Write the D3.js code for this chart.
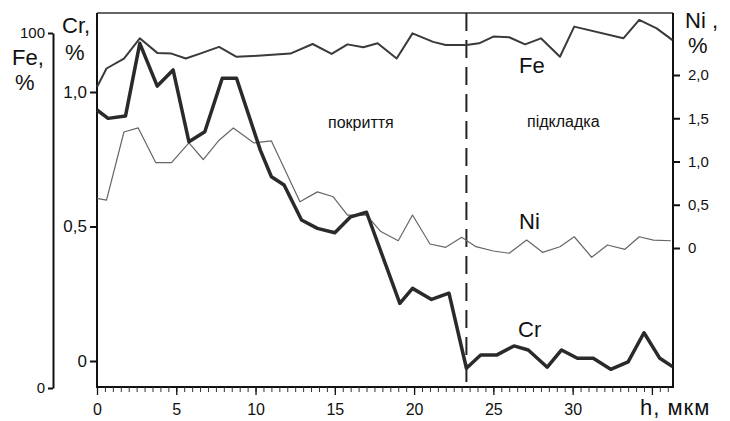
<!DOCTYPE html>
<html>
<head>
<meta charset="utf-8">
<script src="https://cdn.jsdelivr.net/npm/d3@7"></script>
<style>
  body { margin: 0; background: #fff; }
  svg text { font-family: "Liberation Sans", Arial, sans-serif; fill: #111; }
</style>
</head>
<body>
<div id="chart"></div>
<script>
// depth, мкм and concentrations
const feH = [0, 0.6, 1.7, 2.7, 3.8, 4.7, 5.6, 6.5, 7.7, 8.8, 9.8, 12.2, 13.6, 14.8, 15.8, 16.8, 17.7, 18.9, 19.9, 21.2, 22.0, 23.3, 24.1, 25.0, 26.0, 27.0, 28.0, 29.2, 30.1, 33.2, 34.2, 35.3, 36.3];
const feVal = [84.8, 90, 92.8, 98.5, 94.4, 94.2, 92.8, 94.2, 96.1, 93.3, 93.5, 94.2, 96.9, 94.1, 96.8, 96, 97.1, 92.8, 99.9, 97.5, 96.6, 96.6, 97.1, 99, 98.8, 96.8, 98.5, 93.3, 101.8, 98.5, 103.7, 101.3, 98];

const crH = [0, 0.7, 1.8, 2.7, 3.8, 4.8, 5.8, 6.8, 7.9, 8.8, 10.3, 11.0, 11.8, 12.9, 13.9, 15.0, 16.0, 17.0, 19.1, 19.9, 21.1, 22.2, 23.3, 24.2, 25.2, 26.3, 27.2, 28.4, 29.3, 30.3, 31.3, 32.4, 33.5, 34.5, 35.5, 36.3];
const crVal = [0.933, 0.902, 0.911, 1.181, 1.022, 1.082, 0.815, 0.852, 1.051, 1.051, 0.784, 0.685, 0.654, 0.524, 0.493, 0.477, 0.536, 0.553, 0.214, 0.270, 0.229, 0.252, -0.027, 0.022, 0.022, 0.056, 0.041, -0.023, 0.041, 0.010, 0.010, -0.031, -0.003, 0.105, 0.010, -0.021];

const niH = [0, 0.6, 1.7, 2.6, 3.7, 4.7, 5.8, 6.7, 7.7, 8.6, 9.9, 11.0, 12.8, 13.9, 14.9, 15.8, 17.0, 17.9, 19.0, 19.9, 21.0, 22.0, 23.0, 23.9, 25.0, 26.0, 27.1, 28.1, 29.2, 30.1, 31.2, 32.2, 33.3, 34.2, 35.1, 36.2];
const niVal = [0.573, 0.554, 1.341, 1.388, 0.988, 0.988, 1.215, 1.023, 1.246, 1.388, 1.215, 1.238, 0.534, 0.649, 0.592, 0.381, 0.381, 0.19, 0.084, 0.381, 0.046, 0.008, 0.123, 0.015, -0.035, -0.061, 0.092, -0.05, 0.015, 0.13, -0.107, 0.035, -0.015, 0.13, 0.092, 0.084];

const xMajor = [0, 5, 10, 15, 20, 25, 30, 35];
const crTicks = [0, 0.5, 1];
const feTicks = [0, 100];
const niTicks = [0, 0.5, 1, 1.5, 2];
const boundary = 23.3;

const W = 730, H = 421;
const plot = { left: 97, right: 673, top: 13, bottom: 387 };

const svg = d3.select("#chart").append("svg")
    .attr("width", W)
    .attr("height", H);

// scales
const x = d3.scaleLinear().domain([0, 36.33]).range([plot.left, plot.right]);
const yCr = d3.scaleLinear().domain([0, 1]).range([361, 92]);
const yFe = d3.scaleLinear().domain([0, 100]).range([388, 33]);
const yNi = d3.scaleLinear().domain([0, 2]).range([248, 75]);

const comma = d => d === 0 ? "0" : d3.format(".1f")(d).replace(".", ",");

// frame: thin top, heavier sides and bottom
svg.append("line")
    .attr("x1", plot.left).attr("x2", plot.right)
    .attr("y1", plot.top).attr("y2", plot.top)
    .attr("stroke", "#333").attr("stroke-width", 1.5);
svg.append("path")
    .attr("d", `M${plot.left},${plot.top}V${plot.bottom}H${plot.right}V${plot.top}`)
    .attr("fill", "none")
    .attr("stroke", "#111")
    .attr("stroke-width", 2);

// x axis: minor + major ticks
svg.append("g")
    .attr("transform", `translate(0, ${plot.bottom})`)
    .call(d3.axisBottom(x).tickValues(d3.range(0, 36.5, 0.5)).tickSize(5).tickFormat(""))
    .call(g => g.select(".domain").remove())
    .call(g => g.selectAll("line").attr("stroke", "#333"));

svg.append("g")
    .attr("transform", `translate(0, ${plot.bottom})`)
    .call(d3.axisBottom(x).tickValues(xMajor).tickSize(8).tickPadding(9)
        .tickFormat(d => d === 35 ? "" : d))
    .call(g => g.select(".domain").remove())
    .call(g => g.selectAll("line").attr("stroke", "#111").attr("stroke-width", 1.3))
    .call(g => g.selectAll("text").style("font-size", "16px"));

// Cr axis (left, on the frame)
svg.append("g")
    .attr("transform", `translate(${plot.left}, 0)`)
    .call(d3.axisLeft(yCr).tickValues(crTicks).tickSize(7).tickPadding(3).tickFormat(comma))
    .call(g => g.select(".domain").remove())
    .call(g => g.selectAll("line").attr("stroke", "#111").attr("stroke-width", 2))
    .call(g => g.selectAll("text").style("font-size", "17px"));

// Fe axis (outer left)
svg.append("g")
    .attr("transform", "translate(53, 0)")
    .call(d3.axisLeft(yFe).tickValues(feTicks).tickSize(5).tickSizeOuter(0).tickPadding(3))
    .call(g => g.select(".domain").attr("stroke", "#111").attr("stroke-width", 2))
    .call(g => g.selectAll("line").attr("stroke", "#111").attr("stroke-width", 2))
    .call(g => g.selectAll("text").style("font-size", "15px"));

// Ni axis (right, on the frame)
svg.append("g")
    .attr("transform", `translate(${plot.right}, 0)`)
    .call(d3.axisRight(yNi).tickValues(niTicks).tickSize(7).tickPadding(8).tickFormat(comma))
    .call(g => g.select(".domain").remove())
    .call(g => g.selectAll("line").attr("stroke", "#111").attr("stroke-width", 2))
    .call(g => g.selectAll("text").style("font-size", "15px"));

// coating / substrate boundary
svg.append("line")
    .attr("x1", x(boundary)).attr("x2", x(boundary))
    .attr("y1", plot.top).attr("y2", plot.bottom)
    .attr("stroke", "#222")
    .attr("stroke-width", 2)
    .attr("stroke-dasharray", "18,9");

// lines
const mkLine = (hs, vs, y) => d3.line()
    .x((d, i) => x(hs[i]))
    .y((d, i) => y(vs[i]))(hs);

svg.append("path")
    .attr("d", mkLine(niH, niVal, yNi))
    .attr("fill", "none").attr("stroke", "#666").attr("stroke-width", 1.2)
    .attr("stroke-linejoin", "round");

svg.append("path")
    .attr("d", mkLine(feH, feVal, yFe))
    .attr("fill", "none").attr("stroke", "#3a3a3a").attr("stroke-width", 2)
    .attr("stroke-linejoin", "round");

svg.append("path")
    .attr("d", mkLine(crH, crVal, yCr))
    .attr("fill", "none").attr("stroke", "#2a2a2a").attr("stroke-width", 3.5)
    .attr("stroke-linejoin", "round");

// axis titles and labels
const label = (t, px, py, size) => svg.append("text")
    .attr("x", px).attr("y", py)
    .style("font-size", size + "px")
    .text(t);

label("Cr,", 62, 33, 22);
label("%", 65, 60, 22);
label("Fe,", 12, 65, 22);
label("%", 15, 90, 22);
label("Ni ,", 685, 28, 22);
label("%", 688, 53, 22);
label("h, мкм", 640, 415, 22).style("letter-spacing", "1px");

label("Fe", 519, 73, 22);
label("Ni", 519, 229, 22);
label("Cr", 518, 337, 22);
label("покриття", 328, 128, 16);
label("підкладка", 527, 127, 16);
</script>
</body>
</html>
